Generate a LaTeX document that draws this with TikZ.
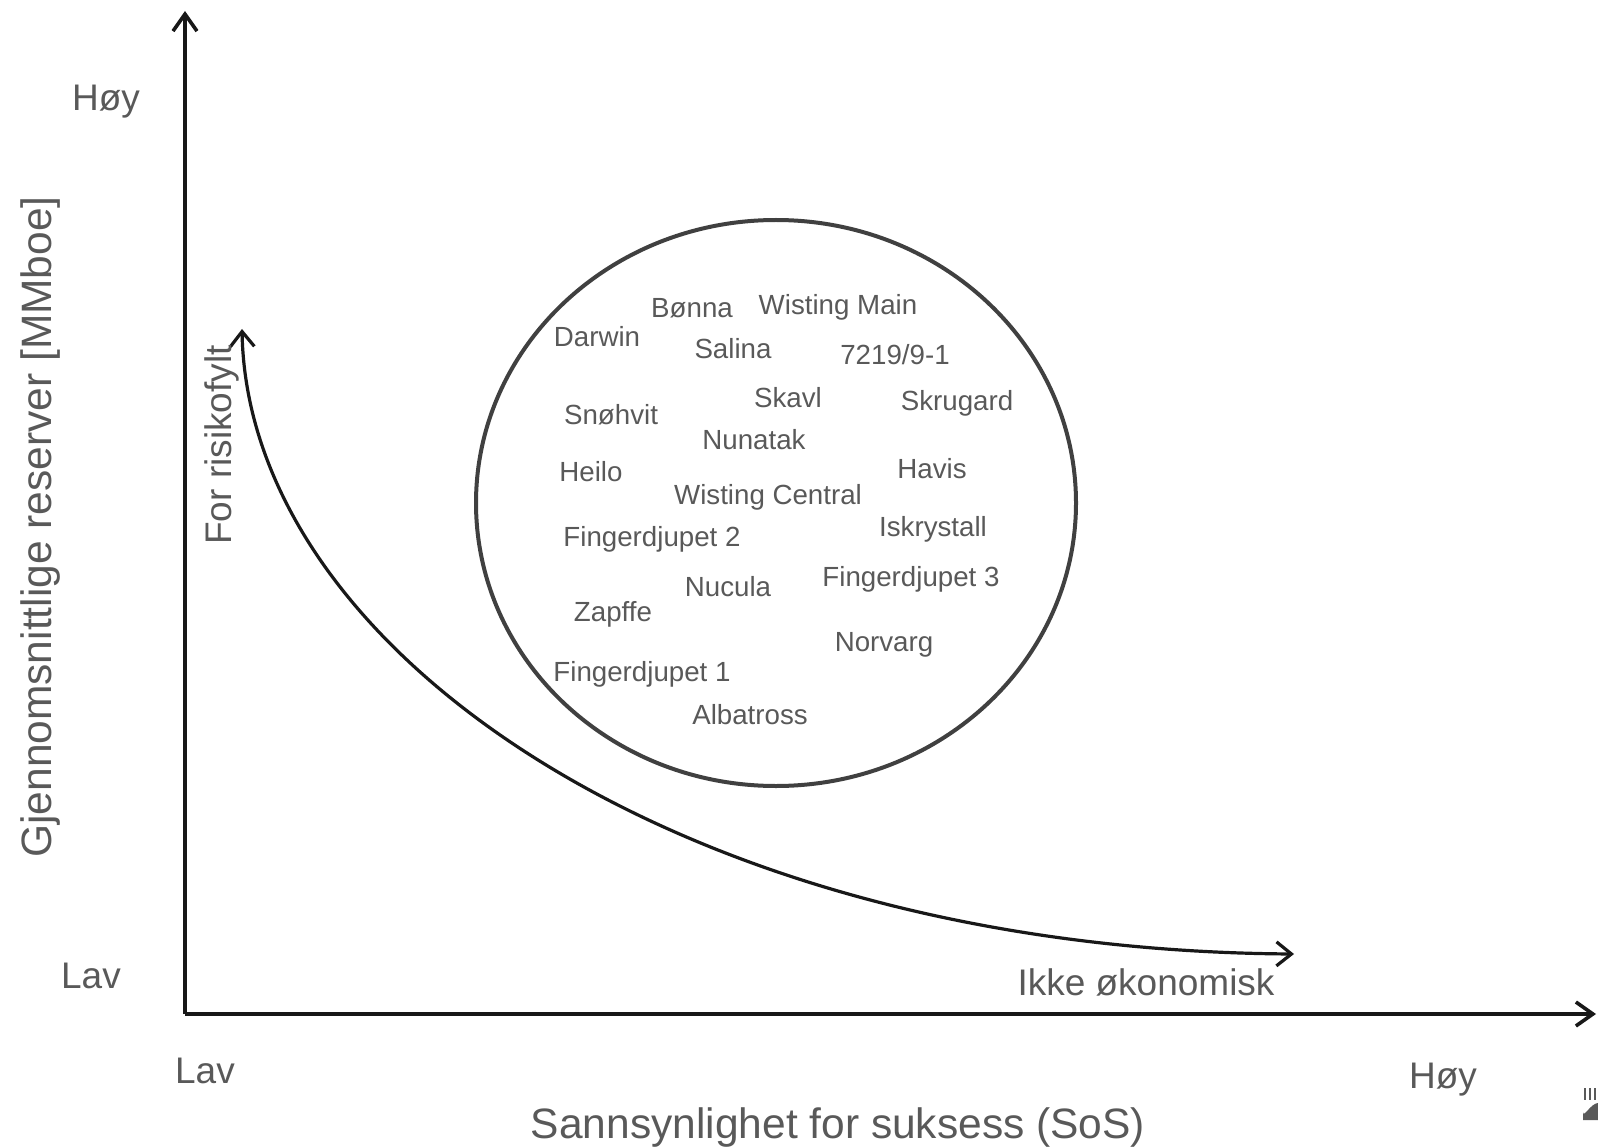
\documentclass[tikz,border=0pt]{standalone}
\usepackage{xcolor}
\usepackage{fontspec}
\setmainfont{Liberation Sans}
\usepackage{tikz}
\usetikzlibrary{arrows.meta,shapes.geometric}

\definecolor{txtgray}{RGB}{89,89,89}
\definecolor{ringgray}{RGB}{64,64,64}
\definecolor{axisblack}{RGB}{24,24,24}

\begin{document}
\begin{tikzpicture}[
    x=1pt, y=-1pt,
    axis/.style={
        draw=axisblack,
        line width=3.6pt,
        -{Straight Barb[length=17pt,width=24pt]}
    },
    trend/.style={
        draw=axisblack,
        line width=3.2pt,
        {Straight Barb[length=15pt,width=24pt]}-{Straight Barb[length=15pt,width=24pt]}
    },
    ring/.style={
        draw=ringgray,
        line width=4pt,
        ellipse,
        minimum width=600pt,
        minimum height=566pt,
        inner sep=0pt
    },
    lbl/.style={text=txtgray, inner sep=0pt, anchor=base, font=\fontsize{37}{44}\selectfont},
    ttl/.style={text=txtgray, inner sep=0pt, anchor=base, font=\fontsize{42.5}{50}\selectfont},
    fld/.style={text=txtgray, inner sep=0pt, anchor=base, font=\fontsize{27.7}{33}\selectfont}
]
\useasboundingbox (0,0) rectangle (1598,1147);

% axes
\coordinate (origin) at (185,1014);
\coordinate (ytop) at (185,11);
\coordinate (xend) at (1596,1014);
\draw[axis] (origin) -- (ytop);
\draw[axis] (origin) -- (xend);

% axis labels
\node[lbl] (yhigh) at (106,111) {Høy};
\node[lbl] (ylow) at (91,988) {Lav};
\node[lbl] (xlow) at (205,1083) {Lav};
\node[lbl] (xhigh) at (1443,1088) {Høy};
\node[ttl, rotate=90] (ytitle) at (51,527) {Gjennomsnittlige reserver [MMboe]};
\node[ttl] (xtitle) at (838,1138) {Sannsynlighet for suksess (SoS)};

% risk curve
\coordinate (riskend) at (242,329);
\coordinate (ikkeend) at (1294,954);
\draw[trend] (riskend) .. controls (248,650) and (680,950) .. (ikkeend);
\node[lbl, rotate=90] (risk) at (231,445) {For risikofylt};
\node[lbl] (ikke) at (1146,995) {Ikke økonomisk};

% cluster of fields
\node[ring] (ring) at (776,503) {};
\node[fld] (bonna) at (692,318) {Bønna};
\node[fld] (wmain) at (838,315) {Wisting Main};
\node[fld] (darwin) at (597,347) {Darwin};
\node[fld] (salina) at (733,359) {Salina};
\node[fld] (well) at (895,365) {7219/9-1};
\node[fld] (skavl) at (788,407) {Skavl};
\node[fld] (skrugard) at (957,410) {Skrugard};
\node[fld] (snohvit) at (611,424) {Snøhvit};
\node[fld] (nunatak) at (754,449) {Nunatak};
\node[fld] (heilo) at (591,481) {Heilo};
\node[fld] (havis) at (932,478) {Havis};
\node[fld] (wcentral) at (768,504) {Wisting Central};
\node[fld] (finger2) at (652,546) {Fingerdjupet 2};
\node[fld] (iskrystall) at (933,536) {Iskrystall};
\node[fld] (finger3) at (911,586) {Fingerdjupet 3};
\node[fld] (nucula) at (728,596) {Nucula};
\node[fld] (zapffe) at (613,621) {Zapffe};
\node[fld] (norvarg) at (884,651) {Norvarg};
\node[fld] (finger1) at (642,681) {Fingerdjupet 1};
\node[fld] (albatross) at (750,724) {Albatross};

% cut-off logo, bottom right
\foreach \lx in {1585,1590,1595}
    \draw[txtgray, line width=1.5pt] (\lx,1088) -- (\lx,1100);
\fill[txtgray] (1583,1120) -- (1583,1112) to[out=-90,in=180] (1598,1103) -- (1598,1120) -- cycle;

\end{tikzpicture}
\end{document}
